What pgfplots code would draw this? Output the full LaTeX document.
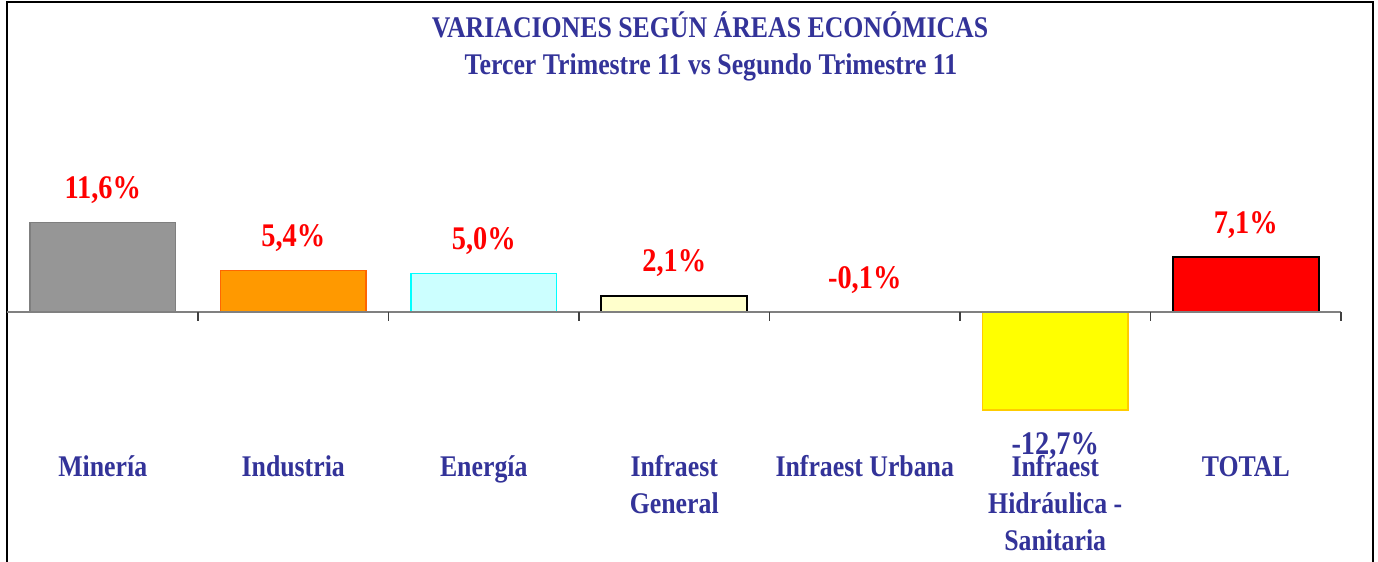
\documentclass[border=0pt]{standalone}
\usepackage{pgfplots}
\pgfplotsset{compat=1.18}
\usepackage{fontspec}
\setmainfont{Liberation Serif}
\newfontfamily\cf{Liberation Serif}[FakeStretch=0.86]
\definecolor{navy}{HTML}{333399}
\definecolor{mineria}{HTML}{969696}
\definecolor{mineriaB}{HTML}{7F7F7F}
\definecolor{industria}{HTML}{FF9900}
\definecolor{industriaB}{HTML}{FF6600}
\definecolor{energia}{HTML}{CCFFFF}
\definecolor{energiaB}{HTML}{00FFFF}
\definecolor{general}{HTML}{FFFFCC}
\definecolor{hidraulica}{HTML}{FFFF00}
\definecolor{hidraulicaB}{HTML}{FFCC00}
\definecolor{total}{HTML}{FF0000}
\pgfplotsset{
  vlab/.style 2 args={
    nodes near coords={\pgfmathprintnumber[fixed,fixed zerofill,precision=1,use comma,assume math mode=true]{\pgfplotspointmeta}\%},
    every node near coord/.style={font=\cf\bfseries\fontsize{16.5}{19}\selectfont, text=#1, anchor=base, yshift=#2},
  },
  pos/.style={vlab={red}{12pt}},
  neg/.style={vlab={navy}{-22.5pt}},
}
\begin{document}
\begin{tikzpicture}
\useasboundingbox (0,0) rectangle (689pt,-281pt);
\fill[white] (0,0) rectangle (689pt,-281pt);
\draw[line width=1pt] (3.25pt,-290pt) |- (686.5pt,-1pt) -- (686.5pt,-290pt);
\node[font=\cf\bfseries\fontsize{15}{18}\selectfont, text=navy, anchor=base] at (355pt,-18.7pt) {VARIACIONES SEGÚN ÁREAS ECONÓMICAS};
\node[font=\cf\bfseries\fontsize{15}{18}\selectfont, text=navy, anchor=base] at (355.5pt,-37.5pt) {Tercer Trimestre 11 vs Segundo Trimestre 11};
\begin{axis}[
  at={(3.75pt,-225.07pt)}, anchor=south west,
  scale only axis, width=666.75pt, height=130.67pt,
  xmin=-0.5, xmax=6.5, ymin=-17.94, ymax=16,
  hide y axis, axis x line*=bottom, x axis line style={draw=none},
  xtick={0,...,6}, major tick length=0pt,
  xticklabels={{\strut Minería},{\strut Industria},{\strut Energía},{\strut Infraest\\General},{\strut Infraest Urbana},{\strut Infraest\\Hidráulica -\\Sanitaria},{\strut TOTAL}},
  xticklabel style={align=center, anchor=north, inner sep=0pt, font=\cf\bfseries\fontsize{15}{18.5}\selectfont, text=navy},
  clip=false, bar width=0.766,
]
\addplot[ybar, fill=mineria, draw=mineriaB, line width=0.75pt, pos] coordinates {(0,11.6)};
\addplot[ybar, fill=industria, draw=industriaB, line width=0.75pt, pos] coordinates {(1,5.4)};
\addplot[ybar, fill=energia, draw=energiaB, line width=0.75pt, pos] coordinates {(2,5.0)};
\addplot[ybar, fill=general, draw=black, line width=1pt, pos] coordinates {(3,2.1)};
\addplot[ybar, fill=mineria, draw=none, pos] coordinates {(4,-0.1)};
\addplot[ybar, fill=hidraulica, draw=hidraulicaB, line width=0.75pt, neg] coordinates {(5,-12.7)};
\addplot[ybar, fill=total, draw=black, line width=1pt, pos] coordinates {(6,7.1)};
\draw[gray, line width=0.75pt] (axis cs:-0.5,0) -- (axis cs:6.5,0);
\pgfplotsinvokeforeach{0.5,1.5,2.5,3.5,4.5,5.5,6.5}{
  \draw[black!75, line width=0.6pt] (axis cs:#1,0) -- ([yshift=-4.5pt]axis cs:#1,0);
}
\end{axis}
\end{tikzpicture}
\end{document}
